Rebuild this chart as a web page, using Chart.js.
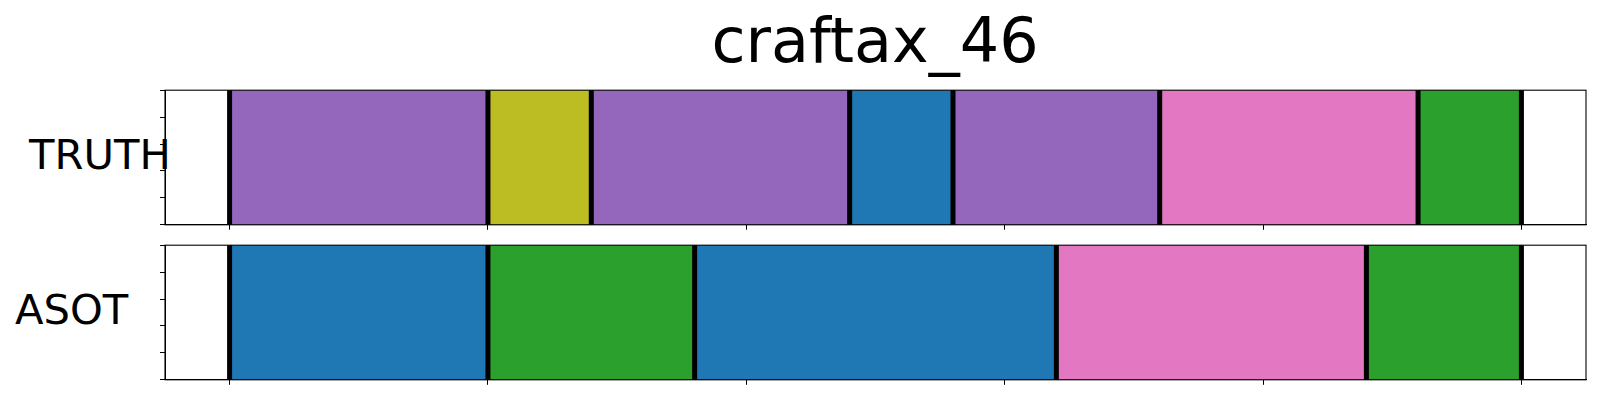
<!DOCTYPE html>
<html>
<head>
<meta charset="utf-8">
<title>craftax_46</title>
<script src="https://cdn.jsdelivr.net/npm/chart.js@4.4.0/dist/chart.umd.min.js"></script>
<style>
    html, body { margin: 0; padding: 0; background: #fff; }
    #wrap { position: relative; width: 1600px; height: 400px; overflow: hidden; font-family: 'DejaVu Sans', sans-serif; color: #000; }
    .txt { position: absolute; line-height: 1; white-space: nowrap; }
    canvas { position: absolute; left: 0; }
</style>
</head>
<body>
<div id="wrap">
    <div class="txt" id="title" style="left:875px; top:10px; font-size:62px; transform:translateX(-50%);">craftax_46</div>
    <div class="txt" style="left:29px; top:134px; font-size:41.7px;">TRUTH</div>
    <div class="txt" style="left:15px; top:289px; font-size:41.7px;">ASOT</div>
    <canvas id="truthChart" width="1600" height="155" style="top:80px"></canvas>
    <canvas id="asotChart" width="1600" height="155" style="top:235px"></canvas>
</div>
<script>
// --- data ---
const xTicks = [0, 5, 10, 15, 20, 25];
const xMin = -1.25, xMax = 26.25;

// segment boundaries (frame index) and class id of each segment
const truthBounds = [0, 5, 7, 12, 14, 18, 23, 25];
const truthClasses = [4, 8, 4, 0, 4, 6, 2];
const asotBounds = [0, 5, 9, 16, 22, 25];
const asotClasses = [0, 2, 0, 6, 2];

// tab10
const palette = ['#1f77b4', '#ff7f0e', '#2ca02c', '#d62728', '#9467bd',
                 '#8c564b', '#e377c2', '#7f7f7f', '#bcbd22', '#17becf'];

const lineHalf = 0.042; // half width of the boundary marks, in frame units

// frame round the plot area, drawn above the bars like matplotlib spines
const framePlugin = {
    id: 'frame',
    afterDatasetsDraw(chart) {
        const { ctx, chartArea: a } = chart;
        ctx.save();
        ctx.strokeStyle = '#000';
        ctx.lineWidth = 1.1;
        ctx.strokeRect(a.left, a.top, a.right - a.left, a.bottom - a.top);
        ctx.restore();
    }
};

const buildRow = (canvasId, bounds, classes) => {
    const segs = classes.map((c, i) => ({ x: [bounds[i], bounds[i + 1]], y: 'row' }));
    const marks = bounds.map(b => ({ x: [b - lineHalf, b + lineHalf], y: 'row' }));

    new Chart(document.getElementById(canvasId), {
        type: 'bar',
        data: {
            labels: ['row'],
            datasets: [
                {
                    data: marks,
                    backgroundColor: '#000',
                    order: 0
                },
                {
                    data: segs,
                    backgroundColor: classes.map(c => palette[c]),
                    order: 1
                }
            ]
        },
        options: {
            indexAxis: 'y',
            responsive: false,
            animation: false,
            layout: { padding: { top: 10, right: 14, left: 0, bottom: 0 } },
            datasets: {
                bar: { grouped: false, barPercentage: 1, categoryPercentage: 1, borderWidth: 0 }
            },
            plugins: { legend: { display: false }, tooltip: { enabled: false } },
            scales: {
                y: { type: 'category', display: false },
                yt: {
                    type: 'linear', position: 'left', axis: 'y',
                    min: 0, max: 1,
                    ticks: { stepSize: 0.25, callback: () => '' },
                    grid: { drawOnChartArea: false, drawTicks: true, tickLength: 5, color: '#000', lineWidth: 1 },
                    border: { display: true, color: '#000', width: 1 },
                    afterFit: s => { s.width = 165; }
                },
                x: {
                    type: 'linear', min: xMin, max: xMax,
                    afterBuildTicks: s => { s.ticks = xTicks.map(v => ({ value: v })); },
                    ticks: { callback: () => '' },
                    grid: { drawOnChartArea: false, drawTicks: true, tickLength: 5, color: '#000', lineWidth: 1 },
                    border: { display: true, color: '#000', width: 1 },
                    afterFit: s => { s.height = 10; }
                }
            }
        },
        plugins: [framePlugin]
    });
};

buildRow('truthChart', truthBounds, truthClasses);
buildRow('asotChart', asotBounds, asotClasses);
</script>
</body>
</html>
